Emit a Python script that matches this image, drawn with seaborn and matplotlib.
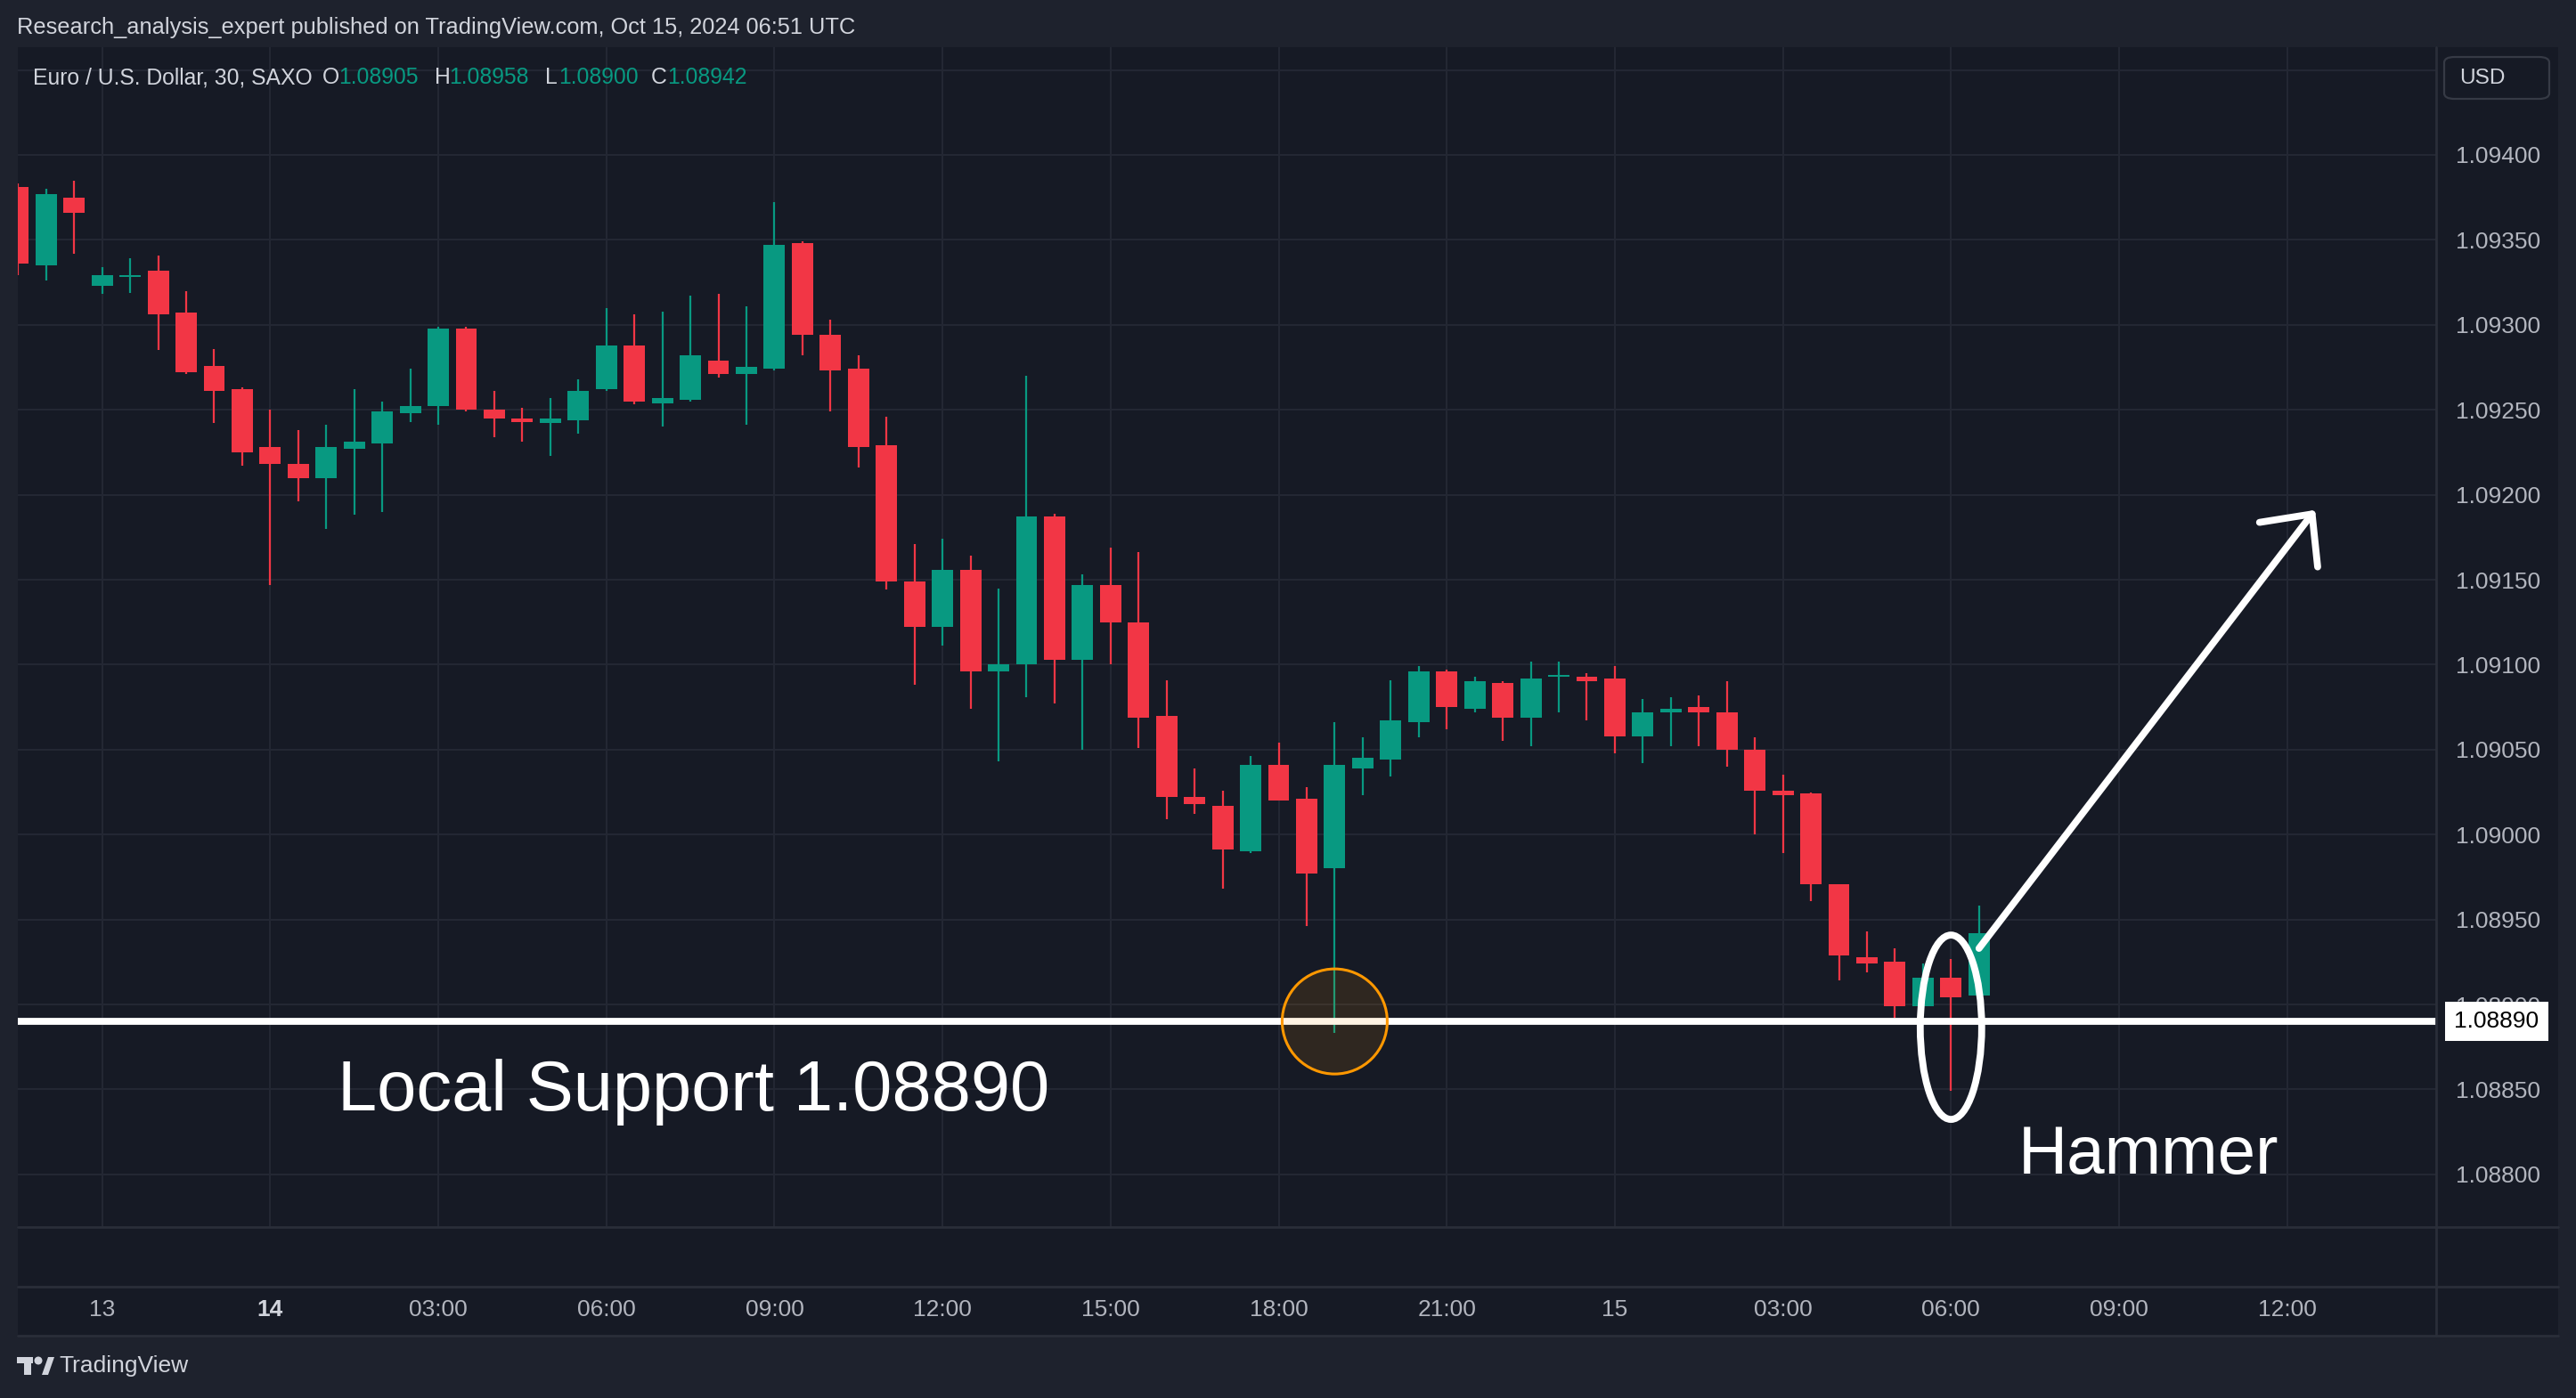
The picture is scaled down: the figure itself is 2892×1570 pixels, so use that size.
import numpy as np
import pandas as pd
import matplotlib
matplotlib.use("Agg")
import matplotlib.pyplot as plt
import seaborn as sns
from matplotlib.patches import Ellipse, Rectangle, FancyBboxPatch, Polygon
from matplotlib.lines import Line2D

# ---------------------------
# Data (EUR/USD, 30 min, SAXO) - bar index 0 = Oct 13 21:00
# ---------------------------
bar_index = list(range(-3, 68))

opens = [1.09381, 1.09335, 1.09375, 1.09323, 1.09328, 1.09332, 1.09307, 1.09276, 1.09262, 1.09228,
         1.09218, 1.09210, 1.09227, 1.09230, 1.09248, 1.09252, 1.09298, 1.09250, 1.09245, 1.09242,
         1.09244, 1.09262, 1.09288, 1.09254, 1.09256, 1.09279, 1.09271, 1.09274, 1.09348, 1.09294,
         1.09274, 1.09229, 1.09149, 1.09122, 1.09156, 1.09096, 1.09100, 1.09187, 1.09103, 1.09147,
         1.09125, 1.09070, 1.09022, 1.09017, 1.08990, 1.09041, 1.09021, 1.08980, 1.09039, 1.09044,
         1.09066, 1.09096, 1.09074, 1.09089, 1.09069, 1.09093, 1.09093, 1.09092, 1.09058, 1.09072,
         1.09075, 1.09072, 1.09050, 1.09026, 1.09024, 1.08971, 1.08928, 1.08925, 1.08899, 1.08916,
         1.08905]
highs = [1.09383, 1.09380, 1.09385, 1.09334, 1.09339, 1.09341, 1.09320, 1.09286, 1.09263, 1.09250,
         1.09238, 1.09241, 1.09262, 1.09255, 1.09274, 1.09299, 1.09299, 1.09261, 1.09251, 1.09257,
         1.09268, 1.09310, 1.09306, 1.09308, 1.09317, 1.09318, 1.09311, 1.09372, 1.09349, 1.09303,
         1.09282, 1.09246, 1.09171, 1.09174, 1.09164, 1.09145, 1.09270, 1.09189, 1.09153, 1.09169,
         1.09166, 1.09091, 1.09039, 1.09026, 1.09046, 1.09054, 1.09028, 1.09066, 1.09057, 1.09091,
         1.09099, 1.09097, 1.09093, 1.09090, 1.09102, 1.09102, 1.09095, 1.09099, 1.09080, 1.09081,
         1.09082, 1.09090, 1.09057, 1.09035, 1.09025, 1.08971, 1.08943, 1.08933, 1.08924, 1.08927,
         1.08958]
lows = [1.09329, 1.09326, 1.09342, 1.09318, 1.09319, 1.09285, 1.09271, 1.09242, 1.09217, 1.09147,
        1.09196, 1.09180, 1.09188, 1.09190, 1.09243, 1.09241, 1.09249, 1.09234, 1.09231, 1.09223,
        1.09236, 1.09261, 1.09253, 1.09240, 1.09255, 1.09269, 1.09241, 1.09273, 1.09282, 1.09249,
        1.09216, 1.09144, 1.09088, 1.09111, 1.09074, 1.09043, 1.09081, 1.09077, 1.09050, 1.09100,
        1.09051, 1.09009, 1.09012, 1.08968, 1.08989, 1.09020, 1.08946, 1.08883, 1.09023, 1.09034,
        1.09057, 1.09062, 1.09072, 1.09055, 1.09052, 1.09072, 1.09067, 1.09048, 1.09042, 1.09052,
        1.09052, 1.09040, 1.09000, 1.08989, 1.08961, 1.08914, 1.08919, 1.08892, 1.08899, 1.08849,
        1.08900]
closes = [1.09336, 1.09377, 1.09366, 1.09329, 1.09329, 1.09306, 1.09272, 1.09261, 1.09225, 1.09218,
          1.09210, 1.09228, 1.09231, 1.09249, 1.09252, 1.09298, 1.09250, 1.09245, 1.09243, 1.09245,
          1.09261, 1.09288, 1.09255, 1.09257, 1.09282, 1.09271, 1.09275, 1.09347, 1.09294, 1.09273,
          1.09228, 1.09149, 1.09122, 1.09156, 1.09096, 1.09100, 1.09187, 1.09103, 1.09147, 1.09125,
          1.09069, 1.09022, 1.09018, 1.08991, 1.09041, 1.09020, 1.08977, 1.09041, 1.09045, 1.09067,
          1.09096, 1.09075, 1.09090, 1.09069, 1.09092, 1.09094, 1.09090, 1.09058, 1.09072, 1.09074,
          1.09072, 1.09050, 1.09026, 1.09023, 1.08971, 1.08929, 1.08924, 1.08899, 1.08916, 1.08904,
          1.08942]

time_ticks = [0, 6, 12, 18, 24, 30, 36, 42, 48, 54, 60, 66, 72, 78]
time_labels = ["13", "14", "03:00", "06:00", "09:00", "12:00", "15:00", "18:00",
               "21:00", "15", "03:00", "06:00", "09:00", "12:00"]
price_ticks = [1.0880, 1.0885, 1.0890, 1.0895, 1.0900, 1.0905, 1.0910,
               1.0915, 1.0920, 1.0925, 1.0930, 1.0935, 1.0940, 1.0945]

support_level = 1.08890
support_bar = 44
hammer_bar = 66
arrow_start = (67.0, 1.08933)
arrow_end = (79.0, 1.09191)

# ---------------------------
# Style
# ---------------------------
sns.set_theme(style="dark")
plt.rcParams["font.family"] = ["Liberation Sans", "DejaVu Sans"]

UP = "#089981"
DOWN = "#f23645"
BG = "#161a25"
FRAME = "#1e222d"
GRID = "#232733"
SEP = "#2a2e39"
TXT = "#d1d4dc"
AXT = "#b2b5be"

W, H, DPI = 2892, 1570, 200
fig = plt.figure(figsize=(W / DPI, H / DPI), dpi=DPI, facecolor=FRAME)


def fx(px):
    return px / W


def fy(py):
    return 1 - py / H


# chart backdrop + separators
fig.patches.append(Rectangle((fx(20), fy(1500)), (2872 - 20) / W, (1500 - 53) / H,
                             transform=fig.transFigure, facecolor=BG, edgecolor="none", zorder=-10))
for y in (1378, 1445, 1500):
    fig.add_artist(Line2D([fx(20), fx(2872)], [fy(y), fy(y)], color=SEP, lw=1.0,
                          transform=fig.transFigure))
fig.add_artist(Line2D([fx(2735), fx(2735)], [fy(53), fy(1500)], color=SEP, lw=1.0,
                      transform=fig.transFigure))

x_left, x_right = -3.01, 83.32
y_low, y_high = 1.08769, 1.094634

ax = fig.add_axes([fx(20), fy(1378), (2735 - 20) / W, (1378 - 53) / H])
ax.set_facecolor(BG)
ax.set_xlim(x_left, x_right)
ax.set_ylim(y_low, y_high)
for s in ax.spines.values():
    s.set_visible(False)

ax.set_xticks(time_ticks)
ax.tick_params(axis="x", length=0, labelbottom=False)
ax.yaxis.tick_right()
ax.set_yticks(price_ticks, [f"{v:.5f}" if v < 1.0944 else "" for v in price_ticks])
ax.tick_params(axis="y", length=0, pad=7.9, labelsize=9.5, labelcolor=AXT)
ax.grid(True, color=GRID, lw=0.75)
ax.set_axisbelow(True)

px_per_bar = (2735 - 20) / (x_right - x_left)
px_per_price = (1378 - 53) / (y_high - y_low)

# ---------------------------
# Candles
# ---------------------------
df = pd.DataFrame({"i": bar_index, "open": opens, "high": highs, "low": lows, "close": closes})
df["up"] = df["close"] >= df["open"]
colors = np.where(df["up"], UP, DOWN)
body_low = df[["open", "close"]].min(axis=1)
body_h = np.maximum((df["close"] - df["open"]).abs(), 2.2 / px_per_price)

ax.vlines(df["i"], df["low"], df["high"], colors=colors, lw=0.8, zorder=2)
ax.bar(df["i"], body_h, bottom=body_low, width=0.76, color=colors, linewidth=0, zorder=3)

# ---------------------------
# Annotations
# ---------------------------
ax.axhline(support_level, color="white", lw=2.8, zorder=4)
ax.add_patch(Ellipse((support_bar, support_level), 118 / px_per_bar, 118 / px_per_price,
                     facecolor=(1, 0.6, 0, 0.11), edgecolor="#ff9800", lw=1.1, zorder=5))
ax.add_patch(Ellipse((hammer_bar, 1.088866), 69 / px_per_bar, 207 / px_per_price,
                     facecolor="none", edgecolor="white", lw=2.8, zorder=6))
ax.annotate("", xy=arrow_end, xytext=arrow_start,
            arrowprops=dict(arrowstyle="->,head_length=0.78,head_width=0.74", color="white",
                            lw=2.8, mutation_scale=20, shrinkA=0, shrinkB=0,
                            capstyle="round", joinstyle="round"), zorder=6)

ax.text(8.4, 1.088376, "Local Support 1.08890", color="white", fontsize=28.6,
        ha="left", va="baseline", zorder=7)
ax.text(68.4, 1.088004, "Hammer", color="white", fontsize=27.5,
        ha="left", va="baseline", zorder=7)

# price label on axis
ax.text(1.0075, support_level, "1.08890", transform=ax.get_yaxis_transform(),
        color="black", fontsize=9.5, ha="left", va="center", zorder=10, clip_on=False,
        bbox=dict(boxstyle="square,pad=0.38", facecolor="white", edgecolor="none"))

# ---------------------------
# Time axis
# ---------------------------
ax_time = fig.add_axes([fx(20), fy(1500), (2735 - 20) / W, 55 / H])
ax_time.set_facecolor("none")
ax_time.set_xlim(x_left, x_right)
ax_time.set_yticks([])
for s in ax_time.spines.values():
    s.set_visible(False)
ax_time.set_xticks(time_ticks, time_labels)
ax_time.tick_params(axis="x", length=0, pad=-14.8, labelsize=9.5, labelcolor=AXT)
ax_time.get_xticklabels()[1].set_fontweight("bold")
ax_time.get_xticklabels()[1].set_color(TXT)

# ---------------------------
# Header / legend / badges
# ---------------------------
fig.text(fx(19), fy(31), "Research_analysis_expert published on TradingView.com, Oct 15, 2024 06:51 UTC",
         color=TXT, fontsize=9.15, va="center", ha="left")

legend_parts = [("Euro / U.S. Dollar, 30, SAXO", 37, TXT),
                ("O", 362, TXT), ("1.08905", 380, UP),
                ("H", 488, TXT), ("1.08958", 504, UP),
                ("L", 612, TXT), ("1.08900", 627, UP),
                ("C", 731, TXT), ("1.08942", 749, UP)]
for txt, xp, col in legend_parts:
    fig.text(fx(xp), fy(87), txt, color=col, fontsize=8.9, va="center", ha="left")

fig.patches.append(FancyBboxPatch((fx(2744), fy(111)), (2862 - 2744) / W, (111 - 64) / H,
                                  boxstyle="round,pad=0,rounding_size=0.004",
                                  transform=fig.transFigure, facecolor=BG, edgecolor="#363a45", lw=0.8))
fig.text(fx(2787), fy(88), "USD", color=TXT, fontsize=8.8, ha="center", va="center")

# TradingView logo
logo = [Rectangle((fx(19), fy(1531)), 18 / W, 7 / H),
        Rectangle((fx(27), fy(1544)), 8 / W, 20 / H),
        Polygon([(fx(47), fy(1544)), (fx(54), fy(1544)), (fx(61), fy(1524)), (fx(54), fy(1524))])]
for p in logo:
    p.set_transform(fig.transFigure)
    p.set_facecolor(TXT)
    p.set_edgecolor("none")
    fig.patches.append(p)
fig.patches.append(Ellipse((fx(43), fy(1528)), 9 / W, 9 / H, transform=fig.transFigure,
                           facecolor=TXT, edgecolor="none"))
fig.text(fx(66), fy(1534), "TradingView", color=TXT, fontsize=9.5, ha="left", va="center")

fig.savefig("out.png", dpi=DPI, facecolor=FRAME)
